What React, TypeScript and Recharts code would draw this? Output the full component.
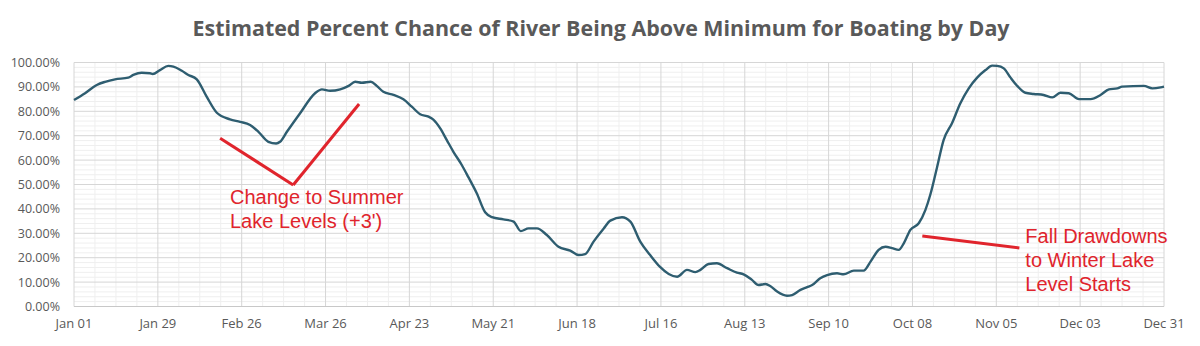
import React from "react";
import {
  LineChart,
  Line,
  XAxis,
  YAxis,
  CartesianGrid,
  ReferenceLine,
  ReferenceDot,
} from "recharts";

const TITLE = "Estimated Percent Chance of River Being Above Minimum for Boating by Day";

const dayLabels = [
  "Jan 01", "Jan 29", "Feb 26", "Mar 26", "Apr 23", "May 21", "Jun 18",
  "Jul 16", "Aug 13", "Sep 10", "Oct 08", "Nov 05", "Dec 03", "Dec 31",
];
const dayTicks = [0, 28, 56, 84, 112, 140, 168, 196, 224, 252, 280, 308, 336, 364];
const pctTicks = [0, 10, 20, 30, 40, 50, 60, 70, 80, 90, 100];
const minorDayGrid = [7, 14, 21, 35, 42, 49, 63, 70, 77, 91, 98, 105, 119, 126, 133, 147, 154, 161, 175, 182, 189, 203, 210, 217, 231, 238, 245, 259, 266, 273, 287, 294, 301, 315, 322, 329, 343, 350, 357];
const minorPctGrid = [2, 4, 6, 8, 12, 14, 16, 18, 22, 24, 26, 28, 32, 34, 36, 38, 42, 44, 46, 48, 52, 54, 56, 58, 62, 64, 66, 68, 72, 74, 76, 78, 82, 84, 86, 88, 92, 94, 96, 98];

const days = [
  0, 3.7, 7.6, 10.4, 13.7, 18.1, 19.8, 22.6, 25.4, 26.3, 28.7, 31.5, 33.2, 36, 38.2, 41,
  44.3, 47.7, 52.1, 55.5, 58.8, 61.6, 64.9, 67.5, 68.8, 71.1, 75.5, 80.5, 82.8, 85.5,
  88.9, 91.7, 93.9, 96.1, 99.1, 101.1, 103.3, 106.7, 110, 112.8, 115.6, 118.4, 120,
  122.3, 124.5, 126.7, 129.5, 131.7, 134.5, 137.3, 139.6, 143.4, 146.8, 149.2, 151.8,
  154.6, 157.9, 161.8, 165.7, 168.5, 170.7, 173.5, 176.9, 179.1, 183, 185.8, 189.1,
  192.4, 195.8, 198.6, 201.4, 204.7, 207.5, 209.2, 211.9, 214.7, 218.1, 221.4, 223.6,
  226.4, 228.6, 230.9, 232.5, 234.8, 238.1, 239.8, 242.6, 244.8, 246.5, 249.2, 251.5,
  254.8, 257, 260.4, 263.7, 266, 268.7, 271, 273.2, 275.4, 277.1, 279.3, 282.1, 284.3,
  286, 288.2, 290.4, 293.2, 296, 298.8, 301.6, 304.4, 306.6, 308.3, 310.5, 312.7, 315,
  317.7, 320.5, 323.8, 326.7, 329.4, 332.2, 335.6, 339.5, 342.8, 345.6, 348.4, 350,
  357.3, 360.1, 362.9, 364,
];
const chance = [
  84.6, 87.4, 90.8, 92.1, 93.1, 93.8, 94.9, 95.8, 95.6, 95.3, 96.9, 98.6, 98.3, 96.6, 94.9, 93.1,
  86, 79.4, 76.7, 75.7, 74.4, 71.6, 67.5, 66.8, 67.5, 71.6, 79.2, 87.4, 89, 88.4,
  89, 90.4, 92.1, 91.7, 92.1, 90.4, 88, 86.7, 84.9, 81.9, 78.8, 77.8, 76.6,
  73, 68.2, 63.4, 58, 53, 46.4, 38.6, 36.6, 35.7, 34.8, 30.9, 32,
  32, 29.3, 24.5, 22.9, 21.1, 21.5, 26.6, 32, 35.2, 36.6, 34.8, 26.6,
  21.1, 16.1, 13.3, 12.2, 15, 14.1, 15, 17.4, 17.7, 15.7, 13.9, 13.2,
  10.9, 8.8, 9.2, 8.4, 6.1, 4.4, 4.7, 6.8, 7.9, 8.8, 11.6, 12.9,
  13.6, 13.2, 14.7, 14.7, 18.4, 23.2, 24.5, 23.9, 23.2, 25.9, 31.4, 34.1, 39.5,
  46, 57, 68.2, 75.1, 83.3, 89.4, 93.8, 96.9, 98.7, 98.6, 97.6, 93.9, 90.4,
  87.6, 87.1, 86.7, 85.7, 87.6, 87.4, 85, 85, 86.7, 89, 89.4, 90.1,
  90.4, 89.4, 89.8, 90.1,
];

// annotations (day, percent)
const summerArrow = [
  { x: 48.8, y: 69 },
  { x: 73.2, y: 49.8 },
  { x: 95.2, y: 83 },
];
const summerText = { x: 52.1, y: 42, lines: ["Change to Summer", "Lake Levels (+3')"] };
const fallArrow = [
  { x: 283.3, y: 28.9 },
  { x: 315.7, y: 24 },
];
const fallText = { x: 317.7, y: 26.1, lines: ["Fall Drawdowns", "to Winter Lake", "Level Starts"] };

const data = days.map((d, i) => ({ day: d, chance: chance[i] }));

const RED = "#e0242c";
const GRAY_TEXT = "#595959";

const annotationShape = (lines: string[]) => (props: any) => (
  <text
    x={props.cx}
    y={props.cy}
    fill={RED}
    fontFamily="'Liberation Sans', Arial, sans-serif"
    fontSize={20}
  >
    {lines.map((l, i) => (
      <tspan key={i} x={props.cx} dy={i === 0 ? 0 : 24}>
        {l}
      </tspan>
    ))}
  </text>
);

export default function App() {
  return (
    <div style={{ position: "absolute", left: 0, top: 0, width: 1200, height: 346, background: "#fff" }}>
      <svg width={1200} height={50} style={{ position: "absolute", left: 0, top: 0 }}>
        <text
          x={601}
          y={36}
          textAnchor="middle"
          fontFamily="'Open Sans', sans-serif"
          fontWeight={700}
          fontSize={21}
          fill={GRAY_TEXT}
          textLength={817}
          lengthAdjust="spacingAndGlyphs"
        >
          {TITLE}
        </text>
      </svg>
      <div style={{ position: "absolute", left: 0, top: 0 }}>
        <LineChart
          width={1200}
          height={346}
          data={data}
          margin={{ top: 62.5, right: 36, bottom: 9.5, left: 0 }}
        >
          <CartesianGrid
            stroke="#efefef"
            strokeWidth={1}
            horizontalValues={minorPctGrid}
            verticalValues={minorDayGrid}
          />
          <CartesianGrid stroke="#d6d6d6" strokeWidth={1} />
          <XAxis
            dataKey="day"
            type="number"
            domain={[0, 364]}
            ticks={dayTicks}
            tickFormatter={(v: number) => dayLabels[dayTicks.indexOf(v)] ?? ""}
            interval={0}
            height={30}
            axisLine={{ stroke: "#c8c8c8" }}
            tickLine={false}
            tickSize={6}
            tickMargin={6}
            tick={{ fill: GRAY_TEXT, fontSize: 13, fontFamily: "'Open Sans', sans-serif" }}
          />
          <YAxis
            type="number"
            domain={[0, 100]}
            ticks={pctTicks}
            interval={0}
            width={74}
            axisLine={false}
            tickLine={false}
            tickSize={6}
            tickMargin={8}
            tickFormatter={(v: number) => v.toFixed(2) + "%"}
            tick={{ fill: GRAY_TEXT, fontSize: 12.5, fontFamily: "'Open Sans', sans-serif" }}
          />
          <ReferenceLine
            segment={[summerArrow[0], summerArrow[1]]}
            stroke={RED}
            strokeWidth={3}
          />
          <ReferenceLine
            segment={[summerArrow[1], summerArrow[2]]}
            stroke={RED}
            strokeWidth={3}
          />
          <ReferenceLine segment={fallArrow} stroke={RED} strokeWidth={3} />
          <Line
            type="monotone"
            dataKey="chance"
            stroke="#2e5d70"
            strokeWidth={2.4}
            dot={false}
            activeDot={false}
            isAnimationActive={false}
          />
          <ReferenceDot
            x={summerText.x}
            y={summerText.y}
            r={0}
            shape={annotationShape(summerText.lines)}
          />
          <ReferenceDot
            x={fallText.x}
            y={fallText.y}
            r={0}
            shape={annotationShape(fallText.lines)}
          />
        </LineChart>
      </div>
    </div>
  );
}
